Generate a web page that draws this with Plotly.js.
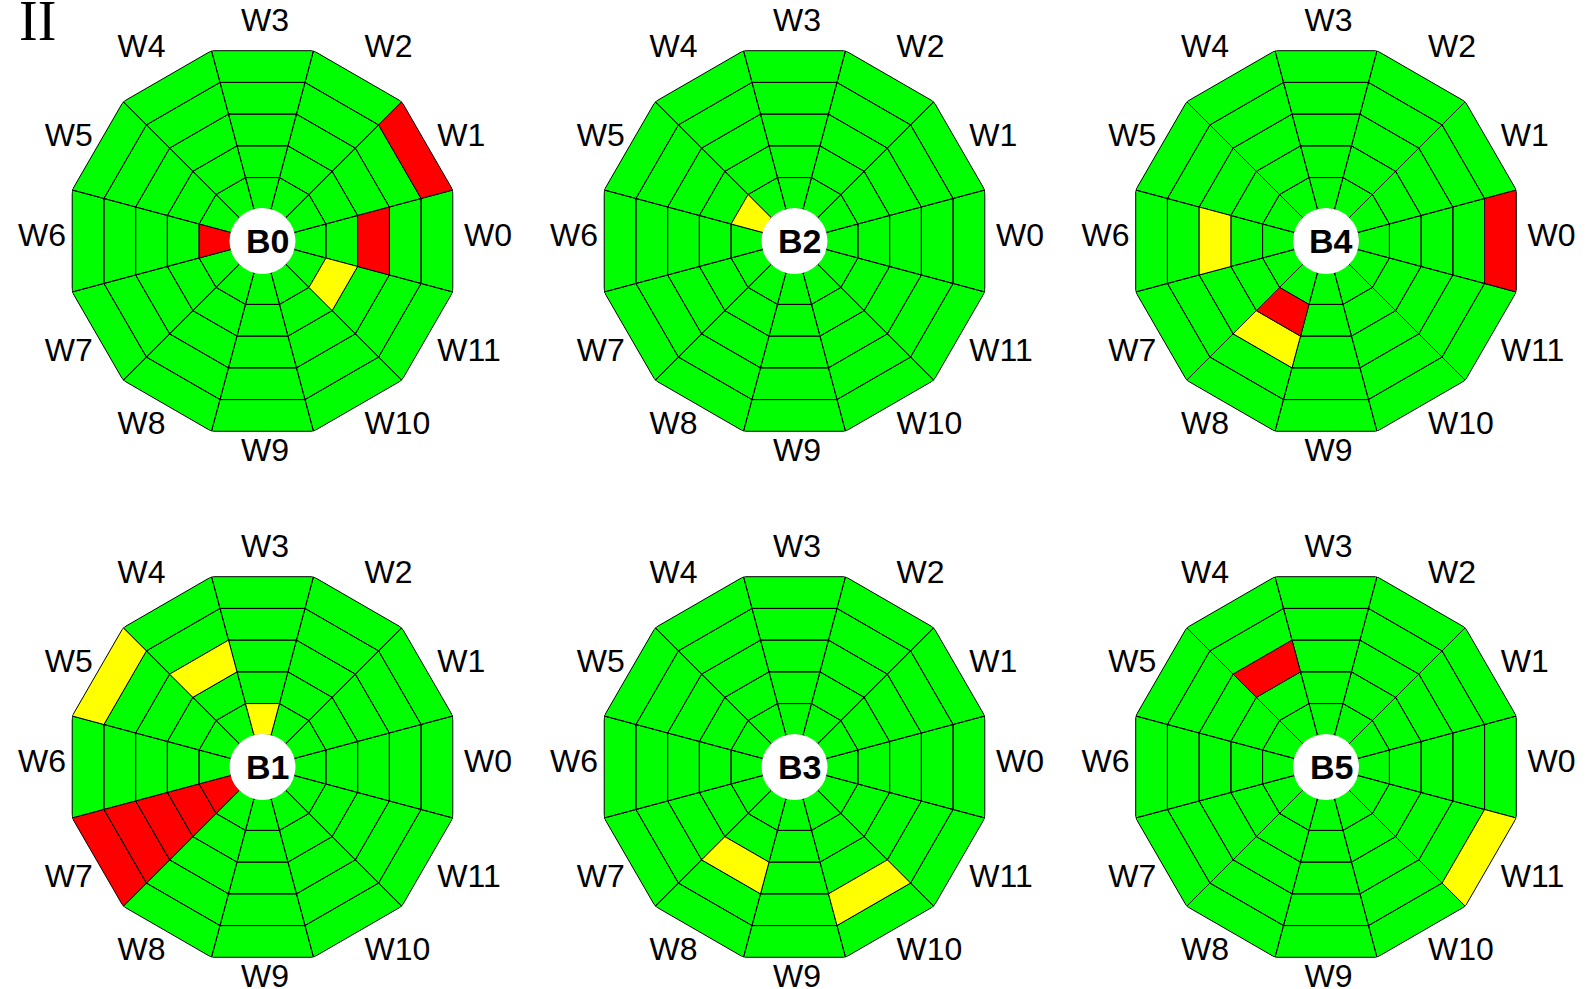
<!DOCTYPE html>
<html>
<head>
<meta charset="utf-8">
<script src="https://cdn.plot.ly/plotly-3.0.1.min.js"></script>
<style>
  html, body { margin: 0; padding: 0; background: #ffffff; }
  #chart { width: 1586px; height: 989px; }
</style>
</head>
<body>
<div id="chart"></div>
<script>
// Wedges around each dial, counter-clockwise from the right
const wedges = ['W0', 'W1', 'W2', 'W3', 'W4', 'W5', 'W6', 'W7', 'W8', 'W9', 'W10', 'W11'];
const ringCount = 5;

// Cell states: 0 = ok, 1 = warning, 2 = alarm
const stateNames = ['ok', 'warning', 'alarm'];
const stateColors = ['#00ff00', '#ffff00', '#ff0000'];

// One row per wedge (W0..W11), rings listed from the centre outwards
const B0 = [
  [0, 0, 2, 0, 0], [0, 0, 0, 0, 2], [0, 0, 0, 0, 0], [0, 0, 0, 0, 0],
  [0, 0, 0, 0, 0], [0, 0, 0, 0, 0], [2, 0, 0, 0, 0], [0, 0, 0, 0, 0],
  [0, 0, 0, 0, 0], [0, 0, 0, 0, 0], [0, 0, 0, 0, 0], [0, 1, 0, 0, 0]
];
const B1 = [
  [0, 0, 0, 0, 0], [0, 0, 0, 0, 0], [0, 0, 0, 0, 0], [1, 0, 0, 0, 0],
  [0, 0, 1, 0, 0], [0, 0, 0, 0, 1], [0, 0, 0, 0, 0], [2, 2, 2, 2, 2],
  [0, 0, 0, 0, 0], [0, 0, 0, 0, 0], [0, 0, 0, 0, 0], [0, 0, 0, 0, 0]
];
const B2 = [
  [0, 0, 0, 0, 0], [0, 0, 0, 0, 0], [0, 0, 0, 0, 0], [0, 0, 0, 0, 0],
  [0, 0, 0, 0, 0], [1, 0, 0, 0, 0], [0, 0, 0, 0, 0], [0, 0, 0, 0, 0],
  [0, 0, 0, 0, 0], [0, 0, 0, 0, 0], [0, 0, 0, 0, 0], [0, 0, 0, 0, 0]
];
const B3 = [
  [0, 0, 0, 0, 0], [0, 0, 0, 0, 0], [0, 0, 0, 0, 0], [0, 0, 0, 0, 0],
  [0, 0, 0, 0, 0], [0, 0, 0, 0, 0], [0, 0, 0, 0, 0], [0, 0, 0, 0, 0],
  [0, 0, 1, 0, 0], [0, 0, 0, 0, 0], [0, 0, 0, 1, 0], [0, 0, 0, 0, 0]
];
const B4 = [
  [0, 0, 0, 0, 2], [0, 0, 0, 0, 0], [0, 0, 0, 0, 0], [0, 0, 0, 0, 0],
  [0, 0, 0, 0, 0], [0, 0, 0, 0, 0], [0, 0, 1, 0, 0], [0, 0, 0, 0, 0],
  [0, 2, 1, 0, 0], [0, 0, 0, 0, 0], [0, 0, 0, 0, 0], [0, 0, 0, 0, 0]
];
const B5 = [
  [0, 0, 0, 0, 0], [0, 0, 0, 0, 0], [0, 0, 0, 0, 0], [0, 0, 0, 0, 0],
  [0, 0, 2, 0, 0], [0, 0, 0, 0, 0], [0, 0, 0, 0, 0], [0, 0, 0, 0, 0],
  [0, 0, 0, 0, 0], [0, 0, 0, 0, 0], [0, 0, 0, 0, 0], [0, 0, 0, 0, 1]
];
const panelCells = { B0, B1, B2, B3, B4, B5 };

// Arrangement of the dials on the page (rows top to bottom)
const panelGrid = [['B0', 'B2', 'B4'], ['B1', 'B3', 'B5']];
const figureTag = 'II';

// ---- page geometry (pixels) ----
const W = 1586, H = 989;
const R = 197;                    // outer polygon corner radius
const COL_X = [262.5, 794.5, 1326];
const ROW_Y = [241, 767];
const HOLE_R = 33;                // white centre disc
const LABEL_R = 199;              // distance from the centre to the near edge of a wedge label
const LABEL_DX = 2.5;
const LABEL_DY = 3.5;             // label ring sits slightly above the dial centre
const FONT = 'Liberation Sans, Arial, Helvetica, sans-serif';

const wedgeAngle = wedges.map((w, i) => i * 360 / wedges.length);
const halfWedge = 180 / wedges.length;

// Anchor each label on the side facing away from the dial
function outwardPosition(deg) {
  const c = Math.cos(deg * Math.PI / 180), s = Math.sin(deg * Math.PI / 180);
  const v = s > 0.6 ? 'top' : (s < -0.1 ? 'bottom' : 'middle');
  const h = c > 0.1 ? 'right' : (c < -0.1 ? 'left' : 'center');
  return v + ' ' + h;
}

function domainAt(cx, cy, r) {
  return {
    x: [(cx - r) / W, (cx + r) / W],
    y: [(H - cy - r) / H, (H - cy + r) / H]
  };
}

const data = [];
const layout = {
  width: W,
  height: H,
  margin: { l: 0, r: 0, t: 0, b: 0 },
  paper_bgcolor: '#ffffff',
  plot_bgcolor: '#ffffff',
  showlegend: false,
  shapes: [],
  annotations: []
};

const panelOrder = panelGrid.flat();
const nPanels = panelOrder.length;

panelGrid.forEach((row, ri) => {
  row.forEach((name, ci) => {
    const k = panelOrder.indexOf(name);
    const cellId = k === 0 ? 'polar' : 'polar' + (k + 1);
    const labelId = 'polar' + (k + 1 + nPanels);
    const cx = COL_X[ci], cy = ROW_Y[ri];
    const cells = panelCells[name];

    // One filled trace per state: each cell is a closed quadrilateral
    stateNames.forEach((state, s) => {
      const r = [], theta = [];
      cells.forEach((rings, w) => {
        rings.forEach((v, j) => {
          if (v !== s) return;
          const a0 = wedgeAngle[w] - halfWedge;
          const a1 = wedgeAngle[w] + halfWedge;
          const r0 = j + 1, r1 = j + 2;
          r.push(r0, r1, r1, r0, r0, null);
          theta.push(a0, a0, a1, a1, a0, null);
        });
      });
      if (!r.length) return;
      data.push({
        type: 'scatterpolar',
        subplot: cellId,
        name: name + ' ' + state,
        r: r,
        theta: theta,
        mode: 'lines',
        fill: 'toself',
        fillcolor: stateColors[s],
        line: { color: '#000000', width: 1 },
        cliponaxis: false,
        hoverinfo: 'skip',
        showlegend: false
      });
    });

    layout[cellId] = {
      domain: domainAt(cx, cy, R),
      bgcolor: 'rgba(0,0,0,0)',
      radialaxis: { range: [0, ringCount + 1], visible: false },
      angularaxis: {
        direction: 'counterclockwise',
        rotation: 0,
        showgrid: false,
        showline: false,
        showticklabels: false,
        ticks: ''
      }
    };

    // Wedge labels around the dial
    data.push({
      type: 'scatterpolar',
      subplot: labelId,
      r: wedges.map(() => 1),
      theta: wedgeAngle,
      text: wedges,
      mode: 'text',
      textposition: wedgeAngle.map(outwardPosition),
      textfont: { family: FONT, size: 32, color: '#000000' },
      cliponaxis: false,
      hoverinfo: 'skip',
      showlegend: false
    });
    layout[labelId] = {
      domain: domainAt(cx + LABEL_DX, cy - LABEL_DY, LABEL_R),
      bgcolor: 'rgba(0,0,0,0)',
      radialaxis: { range: [0, 1], visible: false },
      angularaxis: {
        direction: 'counterclockwise',
        rotation: 0,
        showgrid: false,
        showline: false,
        showticklabels: false,
        ticks: ''
      }
    };

    // White centre disc with the dial name
    const ax = cx / W, ay = (H - cy) / H;
    layout.shapes.push({
      type: 'circle',
      layer: 'above',
      xref: 'paper', yref: 'paper',
      xsizemode: 'pixel', ysizemode: 'pixel',
      xanchor: ax, yanchor: ay,
      x0: -HOLE_R, x1: HOLE_R, y0: -HOLE_R, y1: HOLE_R,
      fillcolor: '#ffffff',
      line: { width: 0 }
    });
    layout.annotations.push({
      text: '<b>' + name + '</b>',
      xref: 'paper', yref: 'paper',
      x: ax, y: ay,
      xanchor: 'center', yanchor: 'middle',
      xshift: 5,
      showarrow: false,
      font: { family: FONT, size: 34, color: '#000000' }
    });
  });
});

layout.annotations.push({
  text: figureTag,
  xref: 'paper', yref: 'paper',
  x: 17 / W, y: 1 - 21 / H,
  xanchor: 'left', yanchor: 'middle',
  showarrow: false,
  font: { family: 'Liberation Serif, Times New Roman, serif', size: 56, color: '#000000' }
});

Plotly.newPlot('chart', data, layout, { staticPlot: true, displayModeBar: false });
</script>
</body>
</html>
